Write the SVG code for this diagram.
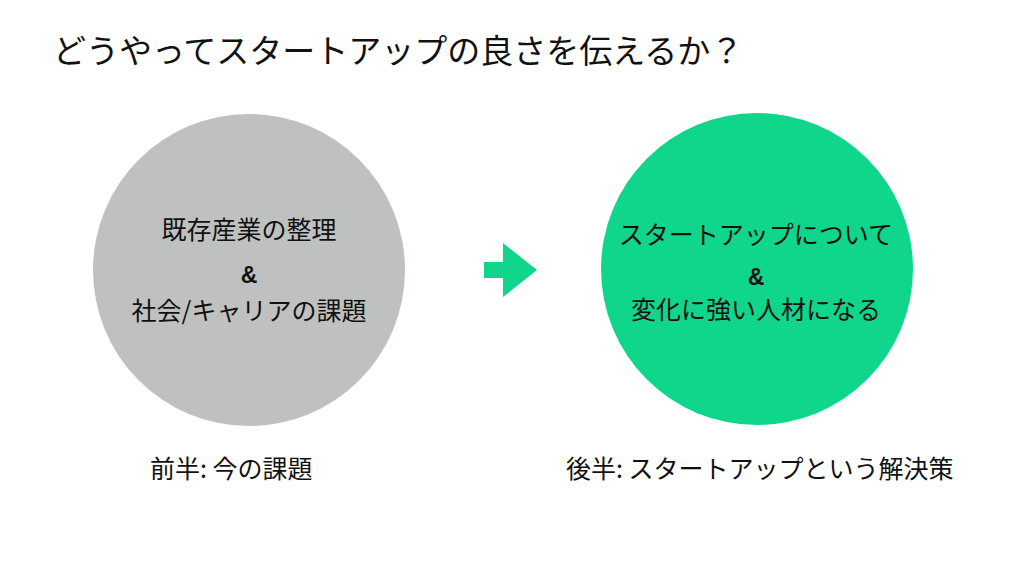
<svg xmlns="http://www.w3.org/2000/svg" width="1024" height="576" viewBox="0 0 1024 576">
<style>
text{font-family:"Noto Sans CJK JP","Noto Sans",sans-serif;fill:#111;}
.t{font-size:33px;}
.c{font-size:25px;text-anchor:middle;}
.amp{font-size:23px;font-weight:bold;text-anchor:middle;font-family:"Liberation Sans",Arial,sans-serif;}
.b{font-size:25px;}
</style>
<rect width="1024" height="576" fill="#fff"/>
<text class="t" x="53" y="63">どうやってスタートアップの良さを伝えるか？</text>
<g id="node-now">
<circle cx="249" cy="270" r="156" fill="#bfc1c0"/>
<text class="c" x="249" y="239">既存産業の整理</text>
<text class="amp" x="249" y="283">&amp;</text>
<text class="c" x="249" y="320">社会/キャリアの課題</text>
</g>
<g id="node-startup">
<circle cx="757" cy="269" r="156" fill="#10d68c"/>
<text class="c" x="756" y="244">スタートアップについて</text>
<text class="amp" x="756" y="285">&amp;</text>
<text class="c" x="756" y="319">変化に強い人材になる</text>
</g>
<g id="connectors">
<polygon points="484,262 503,262 503,243 537,270 503,297 503,278 484,278" fill="#10d68c"/>
</g>
<g id="labels">
<text class="b" x="150" y="478">前半: 今の課題</text>
<text class="b" x="566" y="478">後半: スタートアップという解決策</text>
</g>
</svg>
